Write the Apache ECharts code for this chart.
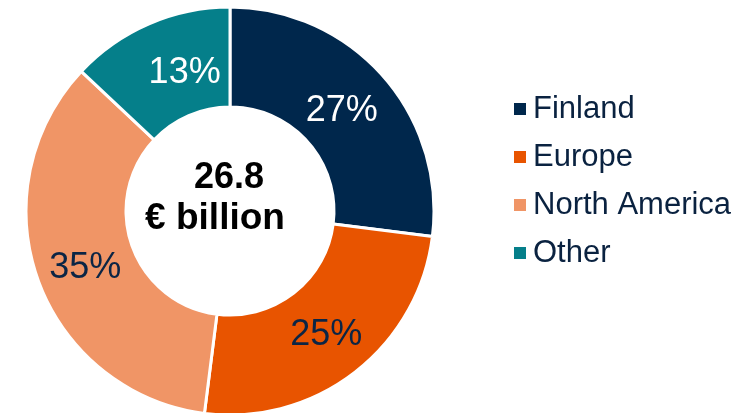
<!DOCTYPE html>
<html>
<head>
<meta charset="utf-8">
<script src="https://cdn.jsdelivr.net/npm/echarts@6/dist/echarts.min.js"></script>
<style>
html, body { margin: 0; padding: 0; background: #fff; }
#main { width: 740px; height: 413px; }
</style>
</head>
<body>
<div id="main"></div>
<script>
// sales by market area
var regions = ['Finland', 'Europe', 'North America', 'Other'];
var shares = [27, 25, 35, 13];
var colors = ['#00274c', '#e85400', '#f09566', '#057f8a'];
var labelColors = ['#ffffff', '#0b2545', '#0b2545', '#ffffff'];
var labelOffsets = [[-6, 4], [0, 0], [3, 4], [17, 6]];
var totalText = ['26.8', '€ billion'];

var pieData = [];
for (var i = 0; i < regions.length; i++) {
	pieData.push({
		name: regions[i],
		value: shares[i],
		itemStyle: { color: colors[i] },
		label: { color: labelColors[i], offset: labelOffsets[i] }
	});
}

var myChart = echarts.init(document.getElementById('main'));
var option = {
	animation: false,
	legend: {
		orient: 'vertical',
		left: 507,
		top: 87,
		icon: 'rect',
		itemWidth: 14,
		itemHeight: 14,
		itemGap: 14,
		data: regions,
		textStyle: {
			fontFamily: 'Liberation Sans, Arial, sans-serif',
			fontSize: 31,
			lineHeight: 34,
			color: '#0a2240',
			padding: [0, 0, 0, 1]
		}
	},
	graphic: [
		{
			type: 'text',
			style: {
				x: 229, y: 178,
				text: totalText[0],
				align: 'center',
				verticalAlign: 'middle',
				font: 'bold 36px "Liberation Sans", Arial, sans-serif',
				fill: '#000'
			}
		},
		{
			type: 'text',
			style: {
				x: 215, y: 219,
				text: totalText[1],
				align: 'center',
				verticalAlign: 'middle',
				font: 'bold 37px "Liberation Sans", Arial, sans-serif',
				fill: '#000'
			}
		}
	],
	series: [
		{
			type: 'pie',
			center: [230, 211],
			radius: [104, 204],
			startAngle: 90,
			clockwise: true,
			avoidLabelOverlap: false,
			itemStyle: { borderColor: '#ffffff', borderWidth: 3 },
			label: {
				show: true,
				position: 'inside',
				formatter: '{c}%',
				fontFamily: 'Liberation Sans, Arial, sans-serif',
				fontSize: 36
			},
			labelLine: { show: false },
			emphasis: { disabled: true },
			data: pieData
		}
	]
};
myChart.setOption(option);
</script>
</body>
</html>
